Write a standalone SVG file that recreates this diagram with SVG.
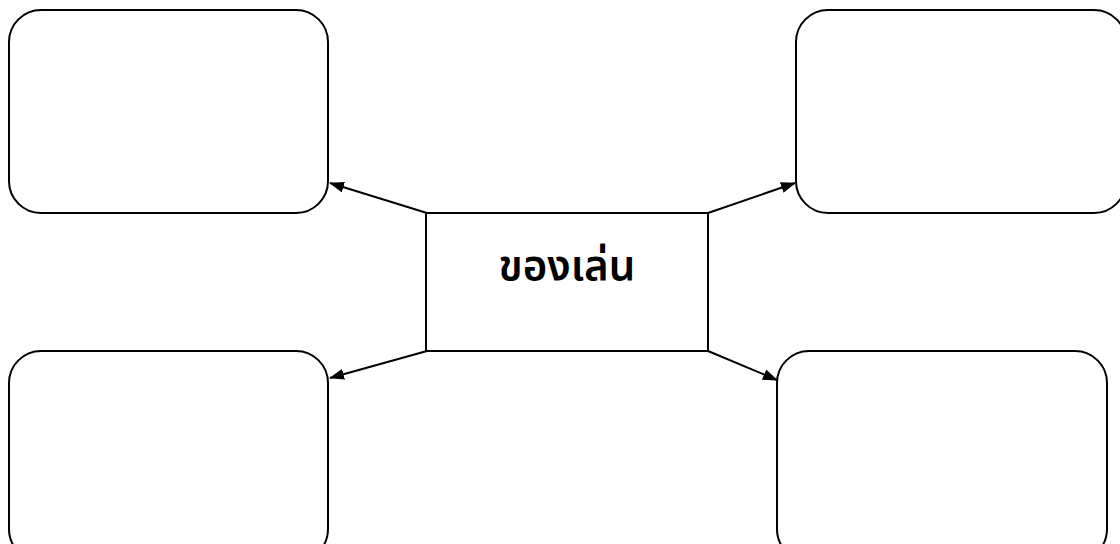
<svg xmlns="http://www.w3.org/2000/svg" width="1120" height="544" viewBox="0 0 1120 544">
<defs>
<style>
.box{fill:#fff;stroke:#000;stroke-width:2}
.conn{stroke:#000;stroke-width:2;fill:none;marker-end:url(#ah)}
.lbl{font-family:"Noto Sans Thai","Noto Sans","DejaVu Sans",sans-serif;font-size:42px;font-weight:600;fill:#000;text-anchor:middle}
</style>
<marker id="ah" viewBox="0 0 15 11" refX="14" refY="5.5" markerWidth="15" markerHeight="11" markerUnits="userSpaceOnUse" orient="auto"><path d="M0,0 L15,5.5 L0,11 z" fill="#000"/></marker>
</defs>
<rect width="1120" height="544" fill="#fff"/>
<g id="node-tl"><rect class="box" x="9" y="10" width="319" height="203" rx="32"/></g>
<g id="node-tr"><rect class="box" x="796" y="10" width="330" height="203" rx="32"/></g>
<g id="node-bl"><rect class="box" x="9" y="351" width="319" height="210" rx="32"/></g>
<g id="node-br"><rect class="box" x="777" y="351" width="330" height="210" rx="32"/></g>
<g id="node-center"><rect class="box" x="426" y="213" width="282" height="138"/><text class="lbl" x="567" y="280">ของเล่น</text></g>
<g id="connectors">
<line class="conn" x1="427" y1="213" x2="330" y2="183"/>
<line class="conn" x1="708" y1="213" x2="795" y2="183"/>
<line class="conn" x1="427" y1="351" x2="330" y2="378"/>
<line class="conn" x1="708" y1="351" x2="777" y2="380"/>
</g>
</svg>
